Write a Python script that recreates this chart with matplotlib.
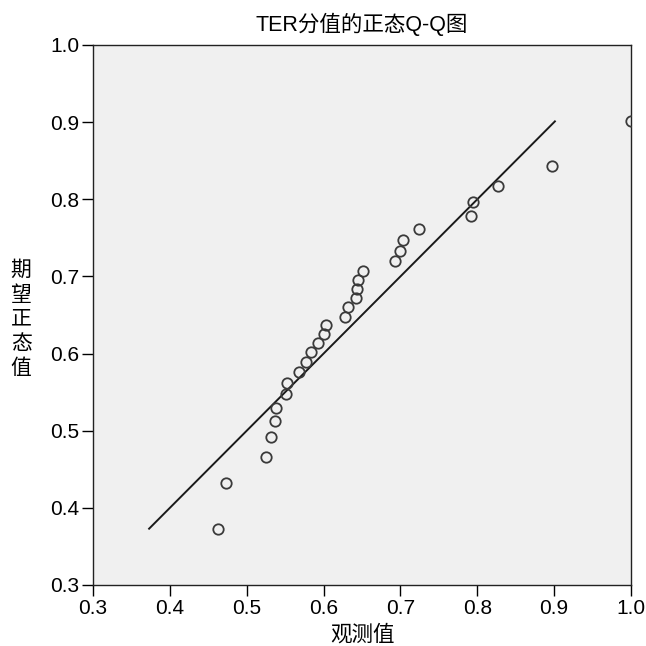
import matplotlib
matplotlib.use('Agg')
import matplotlib.pyplot as plt
import numpy as np

plt.rcParams['font.family'] = ['Liberation Sans', 'Noto Sans CJK SC', 'DejaVu Sans']

observed = [0.463, 0.473, 0.525, 0.532, 0.537, 0.538, 0.551, 0.552, 0.568, 0.577,
            0.583, 0.593, 0.600, 0.603, 0.628, 0.632, 0.642, 0.643, 0.645, 0.651,
            0.693, 0.699, 0.703, 0.724, 0.792, 0.794, 0.827, 0.897, 1.000]
expected = [0.373, 0.432, 0.466, 0.492, 0.513, 0.530, 0.547, 0.562, 0.576, 0.589,
            0.602, 0.614, 0.626, 0.637, 0.648, 0.660, 0.672, 0.684, 0.695, 0.707,
            0.720, 0.733, 0.747, 0.762, 0.778, 0.796, 0.817, 0.843, 0.901]

line_ends = [min(expected), max(expected)]
ticks = [0.3, 0.4, 0.5, 0.6, 0.7, 0.8, 0.9, 1.0]

fig = plt.figure(figsize=(6.46, 6.46), dpi=100)
ax = fig.add_axes([93 / 646, 1 - 585 / 646, (631 - 93) / 646, (585 - 45) / 646])
ax.set_facecolor('#f0f0f0')

ax.plot(line_ends, line_ends, color='#1a1a1a', lw=1.4, zorder=2)
ax.plot(observed, expected, 'o', ms=7.5, mfc='none', mec='#3a3a3a', mew=1.3, zorder=3)

ax.set_xlim(0.3, 1.0)
ax.set_ylim(0.3, 1.0)
ax.set_xticks(ticks)
ax.set_yticks(ticks)
ax.set_xticklabels([f'{t:.1f}' for t in ticks])
ax.set_yticklabels([f'{t:.1f}' for t in ticks])
ax.tick_params(direction='out', length=8, width=1, labelsize=15, colors='black', pad=2)
for s in ax.spines.values():
    s.set_color('#222222')
    s.set_linewidth(1)

fig.text(362 / 646, 1 - 24 / 646, 'TER分值的正态Q-Q图', ha='center', va='center', fontsize=15.5)
fig.text(362 / 646, 1 - 635 / 646, '观测值', ha='center', va='center', fontsize=15.5)
fig.text(21 / 646, 1 - 319 / 646, '期\n望\n正\n态\n值', ha='center', va='center',
         fontsize=15, linespacing=1.35)

fig.savefig('out.png', dpi=100)
